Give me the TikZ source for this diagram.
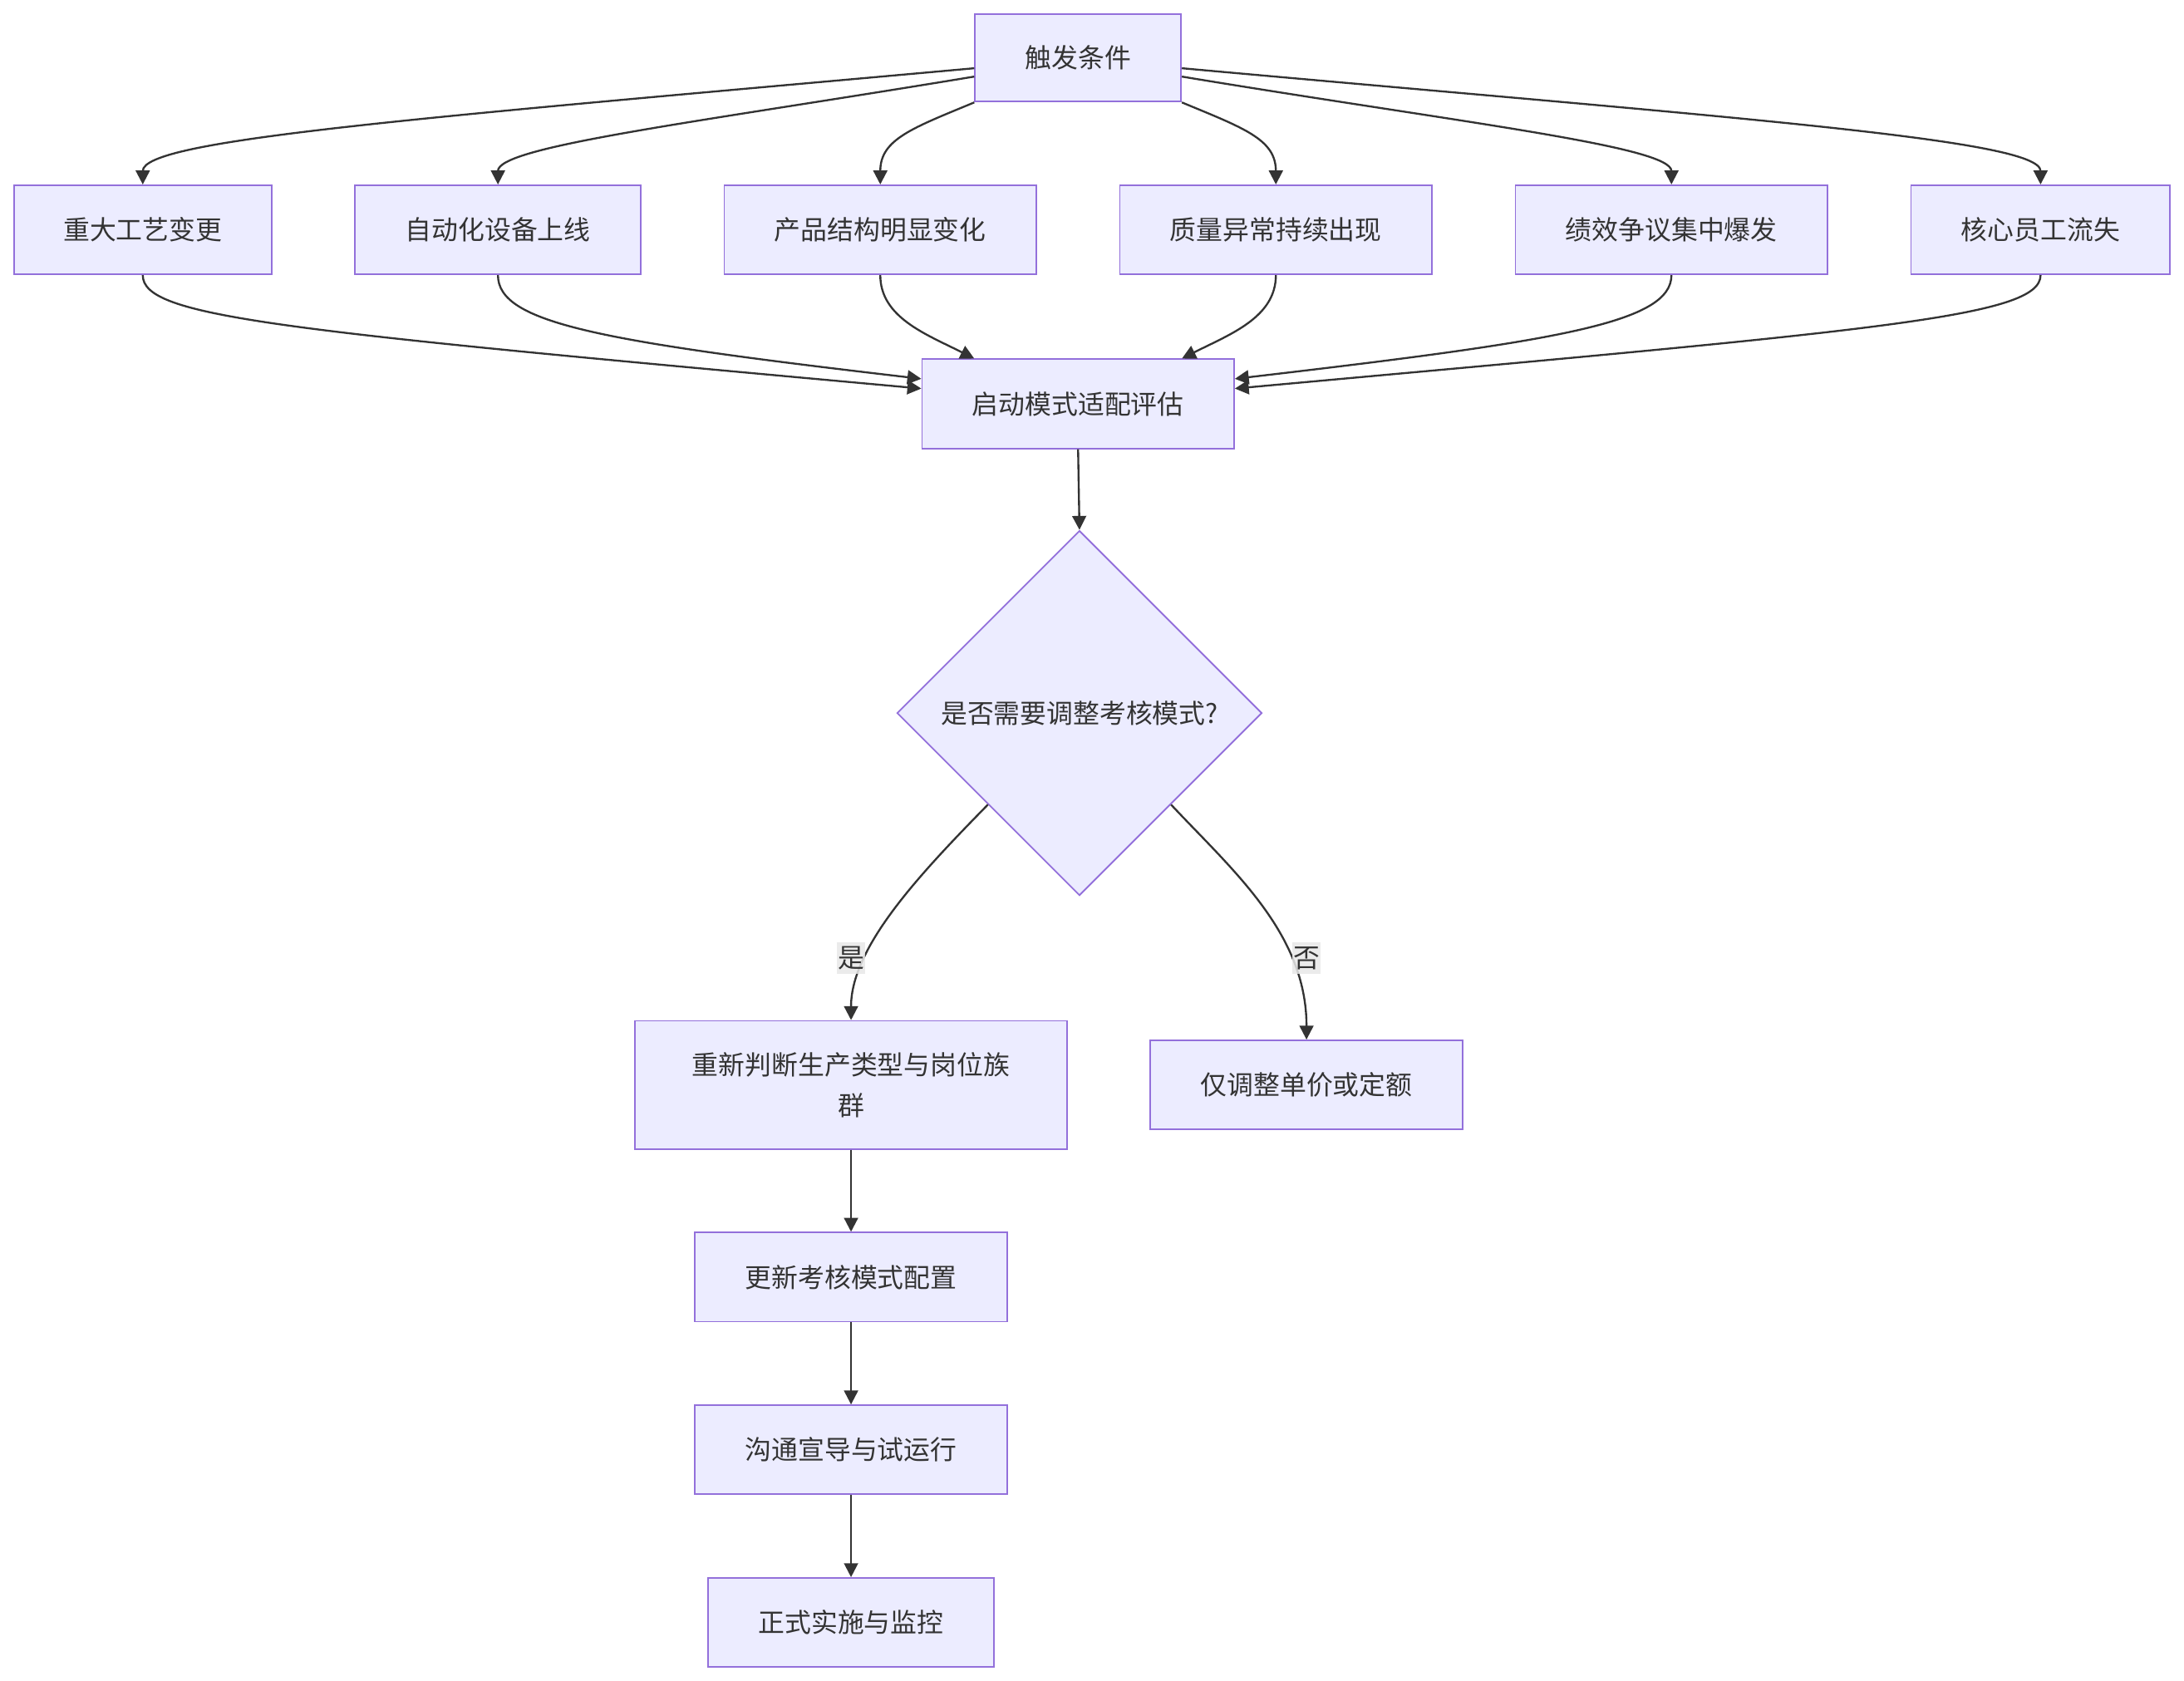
\documentclass[tikz,border=0pt]{standalone}
\usepackage{fontspec}
\setmainfont{Noto Sans CJK SC}
\usetikzlibrary{arrows.meta,shapes.geometric,calc}
\definecolor{boxfill}{HTML}{ECECFF}
\definecolor{boxline}{HTML}{9370DB}
\definecolor{txt}{HTML}{333333}
\definecolor{lbl}{HTML}{E8E8E8}
\begin{document}
\begin{tikzpicture}[x=1pt,y=-1pt,
  box/.style={draw=boxline,fill=boxfill,line width=1.1pt,text=txt,font=\fontsize{19}{29}\selectfont,inner sep=0pt,minimum height=64pt,align=center},
  decision/.style={diamond,aspect=1,draw=boxline,fill=boxfill,line width=1.1pt,text=txt,font=\fontsize{19}{29}\selectfont,inner sep=0pt,minimum width=262pt,minimum height=262pt},
  edge/.style={draw=txt,line width=1.4pt,-{Triangle[length=10pt,width=10pt]}},
  elabel/.style={fill=lbl,fill opacity=0.85,text opacity=1,text=txt,font=\fontsize{19}{22}\selectfont,inner xsep=0.5pt,inner ysep=3pt}]
\useasboundingbox (0,0) rectangle (1568,1207);
\fill[white] (0,0) rectangle (1568,1207);

\node[box,minimum width=148pt,minimum height=63pt] (trig) at (774,41.5) {触发条件};
\node[box,minimum width=185pt] (r1) at (102.5,165) {重大工艺变更};
\node[box,minimum width=205pt] (r2) at (357.5,165) {自动化设备上线};
\node[box,minimum width=224pt] (r3) at (632,165) {产品结构明显变化};
\node[box,minimum width=224pt] (r4) at (916,165) {质量异常持续出现};
\node[box,minimum width=224pt] (r5) at (1200,165) {绩效争议集中爆发};
\node[box,minimum width=186pt] (r6) at (1465,165) {核心员工流失};
\node[box,minimum width=224pt] (eval) at (774,290) {启动模式适配评估};
\node[decision] (dec) at (775,512) {是否需要调整考核模式?};
\node[box,minimum width=310pt,minimum height=92pt] (rej) at (611,779) {重新判断生产类型与岗位族\\群};
\node[box,minimum width=224pt] (adj) at (938,779) {仅调整单价或定额};
\node[box,minimum width=224pt] (upd) at (611,917) {更新考核模式配置};
\node[box,minimum width=224pt] (com) at (611,1041) {沟通宣导与试运行};
\node[box,minimum width=205pt] (imp) at (611,1165) {正式实施与监控};

% trigger -> row
\draw[edge] ($(trig.west)+(0,7.5)$) .. controls (300,85) and (102.5,100) .. (r1.north);
\draw[edge] ($(trig.west)+(0,13.5)$) .. controls (500,88) and (357.5,105) .. (r2.north);
\draw[edge] (trig.south west) .. controls (655,92) and (632,100) .. (r3.north);
\draw[edge] (trig.south east) .. controls (893,92) and (916,100) .. (r4.north);
\draw[edge] ($(trig.east)+(0,13.5)$) .. controls (1048,88) and (1200,105) .. (r5.north);
\draw[edge] ($(trig.east)+(0,7.5)$) .. controls (1248,85) and (1465,100) .. (r6.north);

% row -> eval
\draw[edge] (r1.south) .. controls (102.5,228) and (200,237) .. ($(eval.west)+(0,-11)$);
\draw[edge] (r2.south) .. controls (357.5,232) and (430,245) .. ($(eval.west)+(0,-18)$);
\draw[edge] (r3.south) .. controls (632,228) and (665,240) .. ($(eval.north west)+(38,0)$);
\draw[edge] (r4.south) .. controls (916,228) and (883,240) .. ($(eval.north east)+(-38,0)$);
\draw[edge] (r5.south) .. controls (1200,232) and (1118,245) .. ($(eval.east)+(0,-18)$);
\draw[edge] (r6.south) .. controls (1465,228) and (1348,237) .. ($(eval.east)+(0,-11)$);

\draw[edge] (eval.south) -- (dec.north);

\draw[edge] (dec.south west) .. controls (660,628) and (611,680) .. (rej.north);
\node[elabel] (lyes) at (611,688) {是};
\draw[edge] (dec.south east) .. controls (885,625) and (938,670) .. (adj.north);
\node[elabel] (lno) at (938,688) {否};

\draw[edge] (rej.south) -- (upd.north);
\draw[edge] (upd.south) -- (com.north);
\draw[edge] (com.south) -- (imp.north);
\end{tikzpicture}
\end{document}
